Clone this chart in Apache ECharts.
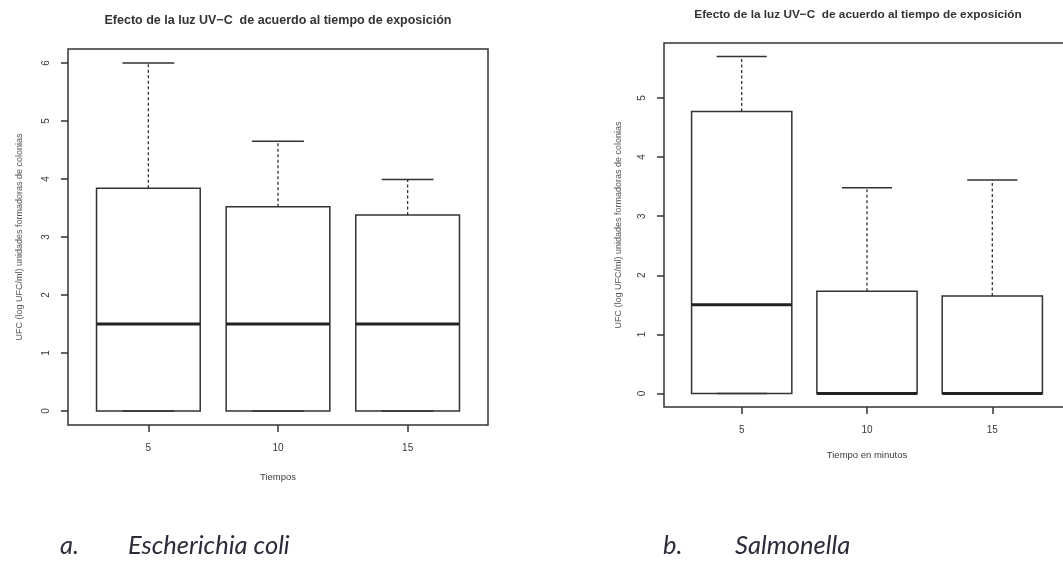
<!DOCTYPE html>
<html>
<head>
<meta charset="utf-8">
<script src="https://cdn.jsdelivr.net/npm/echarts@6/dist/echarts.min.js"></script>
<style>
html,body{margin:0;padding:0;background:#fff;}
#chart{width:1063px;height:565px;}
</style>
</head>
<body>
<div id="chart"></div>
<script>
// ---- data ----
const categories = ['5', '10', '15'];
const chartTitle = 'Efecto de la luz UV\u2212C  de acuerdo al tiempo de exposición';
const yAxisTitle = 'UFC (log UFC/ml) unidades formadoras de colonias';

// Escherichia coli
const ecoliLow = [0, 0, 0];
const ecoliQ1 = [0, 0, 0];
const ecoliMedian = [1.5, 1.5, 1.5];
const ecoliQ3 = [3.84, 3.52, 3.38];
const ecoliHigh = [6.0, 4.65, 3.99];
const ecoliYTicks = [0, 1, 2, 3, 4, 5, 6];

// Salmonella
const salmLow = [0, 0, 0];
const salmQ1 = [0, 0, 0];
const salmMedian = [1.5, 0, 0];
const salmQ3 = [4.77, 1.73, 1.65];
const salmHigh = [5.70, 3.48, 3.61];
const salmOutlierCats = ['10'];
const salmOutlierVals = [5.59];
const salmYTicks = [0, 1, 2, 3, 4, 5];

const xTickPositions = [1, 2, 3];

// ---- helpers ----
function buildBoxData(low, q1, med, q3, high) {
  return categories.map((c, i) => [i + 1, low[i], q1[i], med[i], q3[i], high[i]]);
}
function rExtent(arrs) {
  const all = [].concat(...arrs);
  const lo = Math.min(...all), hi = Math.max(...all);
  const pad = 0.04 * (hi - lo);
  return [lo - pad, hi + pad];
}
const LINE = '#333';
function boxRender(params, api) {
  const x = api.value(0);
  const cx = api.coord([x, 0])[0];
  const yLow = api.coord([x, api.value(1)])[1];
  const yQ1 = api.coord([x, api.value(2)])[1];
  const yMed = api.coord([x, api.value(3)])[1];
  const yQ3 = api.coord([x, api.value(4)])[1];
  const yHigh = api.coord([x, api.value(5)])[1];
  const halfW = api.size([0.8, 0])[0] / 2;
  const capHalf = halfW / 2;
  const solid = {stroke: LINE, lineWidth: 1.5, fill: null};
  const dashed = {stroke: LINE, lineWidth: 1.3, lineDash: [3, 2.5], fill: null};
  return {
    type: 'group',
    children: [
      {type: 'line', shape: {x1: cx, y1: yQ3, x2: cx, y2: yHigh}, style: dashed},
      {type: 'line', shape: {x1: cx, y1: yQ1, x2: cx, y2: yLow}, style: dashed},
      {type: 'line', shape: {x1: cx - capHalf, y1: yHigh, x2: cx + capHalf, y2: yHigh}, style: solid},
      {type: 'line', shape: {x1: cx - capHalf, y1: yLow, x2: cx + capHalf, y2: yLow}, style: solid},
      {type: 'rect', shape: {x: cx - halfW, y: yQ3, width: 2 * halfW, height: yQ1 - yQ3}, style: {stroke: LINE, lineWidth: 1.5, fill: 'rgba(255,255,255,0)'}},
      {type: 'line', shape: {x1: cx - halfW, y1: yMed, x2: cx + halfW, y2: yMed}, style: {stroke: '#222', lineWidth: 3}}
    ]
  };
}

const ecoliExt = rExtent([ecoliLow, ecoliHigh]);
const salmExt = rExtent([salmLow, salmHigh, salmOutlierVals]);
const xExt = [0.5 - 0.04 * 3, 3.5 + 0.04 * 3];

const TXT = '#3a3a3a';
const FONT = 'Liberation Sans, Arial, sans-serif';

function xAxisCfg(gridIndex, name, nameGap) {
  return {
    type: 'value', gridIndex, min: xExt[0], max: xExt[1], position: 'bottom',
    splitLine: {show: false}, axisLine: {show: false, onZero: false},
    axisTick: {show: true, length: 7, customValues: xTickPositions, lineStyle: {color: LINE, width: 1.5}},
    axisLabel: {customValues: xTickPositions, formatter: v => categories[Math.round(v) - 1], margin: 18, color: TXT, fontSize: 10, fontFamily: FONT},
    name, nameLocation: 'middle', nameGap,
    nameTextStyle: {color: TXT, fontSize: 9.5, fontFamily: FONT}
  };
}
function yAxisCfg(gridIndex, ext, ticks, nameGap) {
  return {
    type: 'value', gridIndex, min: ext[0], max: ext[1], position: 'left',
    splitLine: {show: false}, axisLine: {show: false, onZero: false},
    axisTick: {show: true, length: 7, customValues: ticks, lineStyle: {color: LINE, width: 1.5}},
    axisLabel: {customValues: ticks, rotate: 90, margin: 17, color: TXT, fontSize: 10, fontFamily: FONT},
    name: yAxisTitle, nameLocation: 'middle', nameRotate: 90, nameGap,
    nameTextStyle: {color: '#555', fontSize: 9, fontFamily: FONT}
  };
}

const chart = echarts.init(document.getElementById('chart'), null, {renderer: 'canvas'});
chart.setOption({
  backgroundColor: '#fff',
  animation: false,
  grid: [
    {left: 68, top: 49, width: 420, height: 376, show: true, borderColor: LINE, borderWidth: 1.5, backgroundColor: 'transparent', containLabel: false, outerBoundsMode: 'none'},
    {left: 664, top: 43, width: 406, height: 364, show: true, borderColor: LINE, borderWidth: 1.5, backgroundColor: 'transparent', containLabel: false, outerBoundsMode: 'none'}
  ],
  xAxis: [xAxisCfg(0, 'Tiempos', 47), xAxisCfg(1, 'Tiempo en minutos', 43)],
  yAxis: [yAxisCfg(0, ecoliExt, ecoliYTicks, 44), yAxisCfg(1, salmExt, salmYTicks, 41)],
  series: [
    {type: 'custom', xAxisIndex: 0, yAxisIndex: 0, renderItem: boxRender,
     encode: {x: 0, y: [1, 2, 3, 4, 5]}, data: buildBoxData(ecoliLow, ecoliQ1, ecoliMedian, ecoliQ3, ecoliHigh)},
    {type: 'custom', xAxisIndex: 1, yAxisIndex: 1, renderItem: boxRender,
     encode: {x: 0, y: [1, 2, 3, 4, 5]}, data: buildBoxData(salmLow, salmQ1, salmMedian, salmQ3, salmHigh)},
    {type: 'scatter', xAxisIndex: 1, yAxisIndex: 1, symbol: 'emptyCircle', symbolSize: 6,
     itemStyle: {color: '#fff', borderColor: '#999', borderWidth: 1},
     data: salmOutlierCats.map((c, i) => [categories.indexOf(c) + 1, salmOutlierVals[i]])}
  ],
  graphic: [
    {type: 'text', x: 278, y: 21, style: {text: chartTitle, align: 'center', verticalAlign: 'middle', fill: '#333', font: 'bold 12.5px ' + FONT}},
    {type: 'text', x: 858, y: 15, style: {text: chartTitle, align: 'center', verticalAlign: 'middle', fill: '#333', font: 'bold 11.8px ' + FONT}},
    {type: 'text', x: 60, y: 546, style: {text: 'a.', verticalAlign: 'middle', fill: '#2b2b3a', font: 'italic 25.5px Lato, ' + FONT}},
    {type: 'text', x: 128, y: 546, style: {text: 'Escherichia coli', verticalAlign: 'middle', fill: '#2b2b3a', font: 'italic 25.5px Lato, ' + FONT}},
    {type: 'text', x: 663, y: 546, style: {text: 'b.', verticalAlign: 'middle', fill: '#2b2b3a', font: 'italic 25.5px Lato, ' + FONT}},
    {type: 'text', x: 735, y: 546, style: {text: 'Salmonella', verticalAlign: 'middle', fill: '#2b2b3a', font: 'italic 25.5px Lato, ' + FONT}}
  ]
});
</script>
</body>
</html>
